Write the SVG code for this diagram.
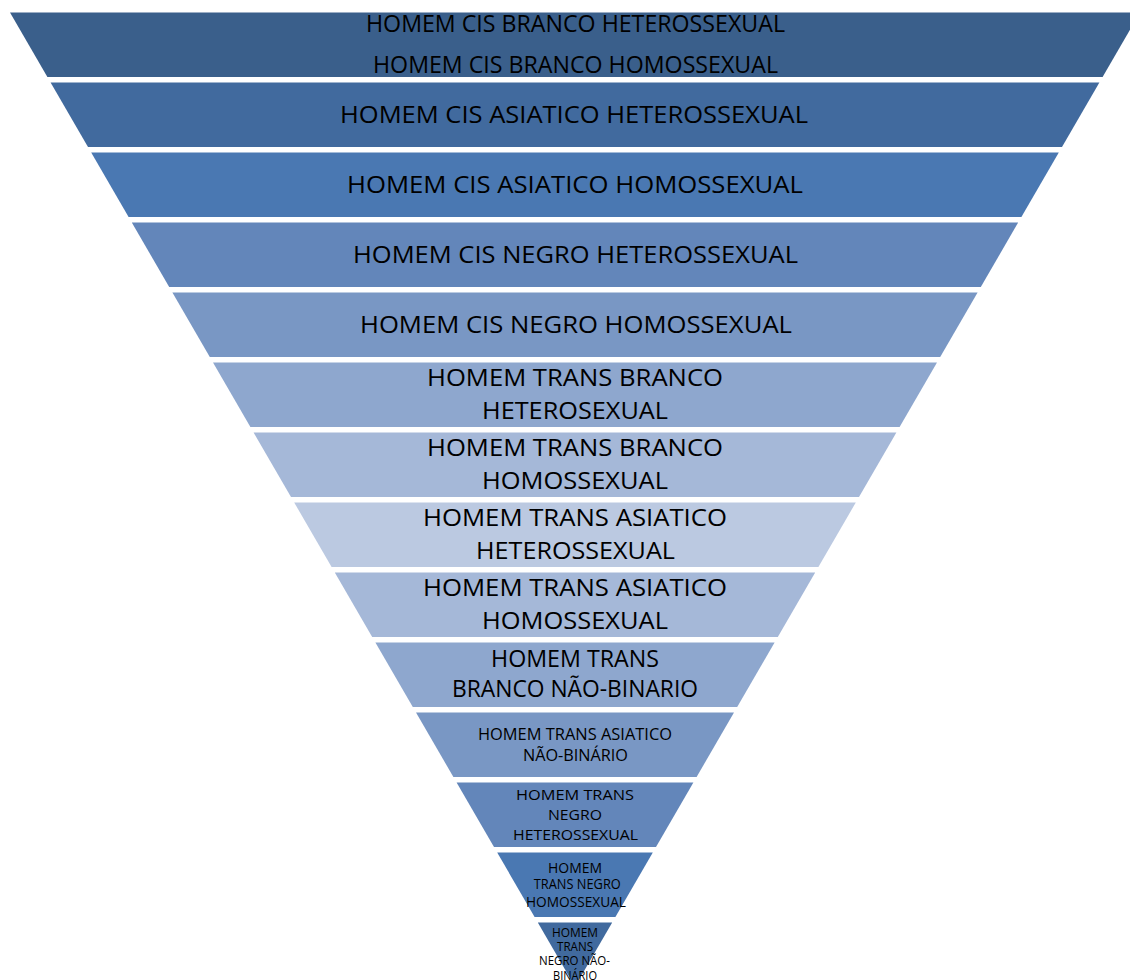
<svg xmlns="http://www.w3.org/2000/svg" width="1130" height="980" viewBox="0 0 1130 980">
  <style>
    .t { font-family: "Open Sans", "Liberation Sans", sans-serif; fill: #000; text-anchor: middle; }
    .s1 { font-size: 23.5px; }
    .s2 { font-size: 16.4px; }
    .s3 { font-size: 15px; }
    .s4 { font-size: 14px; }
    .s5 { font-size: 12.6px; }
    .c1 { fill: #3A5F8B; }
    .c2 { fill: #416A9E; }
    .c3 { fill: #4A78B2; }
    .c4 { fill: #6386BA; }
    .c5 { fill: #7997C4; }
    .c6 { fill: #8EA7CE; }
    .c7 { fill: #A5B8D8; }
    .c8 { fill: #BBC9E1; }
  </style>
  <rect width="1130" height="980" fill="#FFFFFF"/>

  <g id="band-01">
    <polygon class="c1" points="10,12.5 1140,12.5 1102.6,77 47.4,77"/>
    <text class="t s1" x="575.5" y="31.7" textLength="419" lengthAdjust="spacingAndGlyphs">HOMEM CIS BRANCO HETEROSSEXUAL</text>
    <text class="t s1" x="575.5" y="72.7" textLength="405" lengthAdjust="spacingAndGlyphs">HOMEM CIS BRANCO HOMOSSEXUAL</text>
  </g>

  <g id="band-02">
    <polygon class="c2" points="50.6,82.5 1099.4,82.5 1062,147 88,147"/>
    <text class="t s1" x="574" y="122.7" textLength="468" lengthAdjust="spacingAndGlyphs">HOMEM CIS ASIATICO HETEROSSEXUAL</text>
  </g>

  <g id="band-03">
    <polygon class="c3" points="91.2,152.5 1058.8,152.5 1021.4,217 128.6,217"/>
    <text class="t s1" x="575" y="193.3" textLength="456" lengthAdjust="spacingAndGlyphs">HOMEM CIS ASIATICO HOMOSSEXUAL</text>
  </g>

  <g id="band-04">
    <polygon class="c4" points="131.8,222.5 1018.2,222.5 980.8,287 169.2,287"/>
    <text class="t s1" x="575.5" y="262.7" textLength="445" lengthAdjust="spacingAndGlyphs">HOMEM CIS NEGRO HETEROSSEXUAL</text>
  </g>

  <g id="band-05">
    <polygon class="c5" points="172.4,292.5 977.6,292.5 940.2,357 209.8,357"/>
    <text class="t s1" x="576" y="332.7" textLength="432" lengthAdjust="spacingAndGlyphs">HOMEM CIS NEGRO HOMOSSEXUAL</text>
  </g>

  <g id="band-06">
    <polygon class="c6" points="213,362.5 937,362.5 899.6,427 250.4,427"/>
    <text class="t s1" x="575" y="386" textLength="296" lengthAdjust="spacingAndGlyphs">HOMEM TRANS BRANCO</text>
    <text class="t s1" x="575" y="419.3" textLength="186" lengthAdjust="spacingAndGlyphs">HETEROSEXUAL</text>
  </g>

  <g id="band-07">
    <polygon class="c7" points="253.6,432.5 896.4,432.5 859,497 291,497"/>
    <text class="t s1" x="575" y="456" textLength="296" lengthAdjust="spacingAndGlyphs">HOMEM TRANS BRANCO</text>
    <text class="t s1" x="575" y="489" textLength="186" lengthAdjust="spacingAndGlyphs">HOMOSSEXUAL</text>
  </g>

  <g id="band-08">
    <polygon class="c8" points="294.2,502.5 855.8,502.5 818.4,567 331.6,567"/>
    <text class="t s1" x="575" y="526" textLength="304" lengthAdjust="spacingAndGlyphs">HOMEM TRANS ASIATICO</text>
    <text class="t s1" x="575.5" y="559" textLength="199" lengthAdjust="spacingAndGlyphs">HETEROSSEXUAL</text>
  </g>

  <g id="band-09">
    <polygon class="c7" points="334.8,572.5 815.2,572.5 777.8,637 372.2,637"/>
    <text class="t s1" x="575" y="596" textLength="304" lengthAdjust="spacingAndGlyphs">HOMEM TRANS ASIATICO</text>
    <text class="t s1" x="575" y="629" textLength="186" lengthAdjust="spacingAndGlyphs">HOMOSSEXUAL</text>
  </g>

  <g id="band-10">
    <polygon class="c6" points="375.4,642.5 774.6,642.5 737.2,707 412.8,707"/>
    <text class="t s1" x="575" y="666.7" textLength="168" lengthAdjust="spacingAndGlyphs">HOMEM TRANS</text>
    <text class="t s1" x="575" y="696.7" textLength="246" lengthAdjust="spacingAndGlyphs">BRANCO NÃO-BINARIO</text>
  </g>

  <g id="band-11">
    <polygon class="c5" points="416,712.5 734,712.5 696.6,777 453.4,777"/>
    <text class="t s2" x="575" y="740" textLength="194" lengthAdjust="spacingAndGlyphs">HOMEM TRANS ASIATICO</text>
    <text class="t s2" x="575.5" y="761" textLength="105" lengthAdjust="spacingAndGlyphs">NÃO-BINÁRIO</text>
  </g>

  <g id="band-12">
    <polygon class="c4" points="456.6,782.5 693.4,782.5 656,847 494,847"/>
    <text class="t s3" x="575" y="800" textLength="118" lengthAdjust="spacingAndGlyphs">HOMEM TRANS</text>
    <text class="t s3" x="575" y="820" textLength="54" lengthAdjust="spacingAndGlyphs">NEGRO</text>
    <text class="t s3" x="575.5" y="840" textLength="125" lengthAdjust="spacingAndGlyphs">HETEROSSEXUAL</text>
  </g>

  <g id="band-13">
    <polygon class="c3" points="497.2,852.5 652.8,852.5 615.4,917 534.6,917"/>
    <text class="t s4" x="575" y="872.7" textLength="54" lengthAdjust="spacingAndGlyphs">HOMEM</text>
    <text class="t s4" x="577.3" y="889.3" textLength="87" lengthAdjust="spacingAndGlyphs">TRANS NEGRO</text>
    <text class="t s4" x="576" y="906.7" textLength="100" lengthAdjust="spacingAndGlyphs">HOMOSSEXUAL</text>
  </g>

  <g id="band-14">
    <polygon class="c2" points="537.8,922.5 612.2,922.5 575,986.6"/>
    <text class="t s5" x="575" y="936.7" textLength="46" lengthAdjust="spacingAndGlyphs">HOMEM</text>
    <text class="t s5" x="575" y="951" textLength="36" lengthAdjust="spacingAndGlyphs">TRANS</text>
    <text class="t s5" x="574.5" y="965" textLength="71" lengthAdjust="spacingAndGlyphs">NEGRO NÃO-</text>
    <text class="t s5" x="575" y="979.5" textLength="44" lengthAdjust="spacingAndGlyphs">BINÁRIO</text>
  </g>
</svg>
